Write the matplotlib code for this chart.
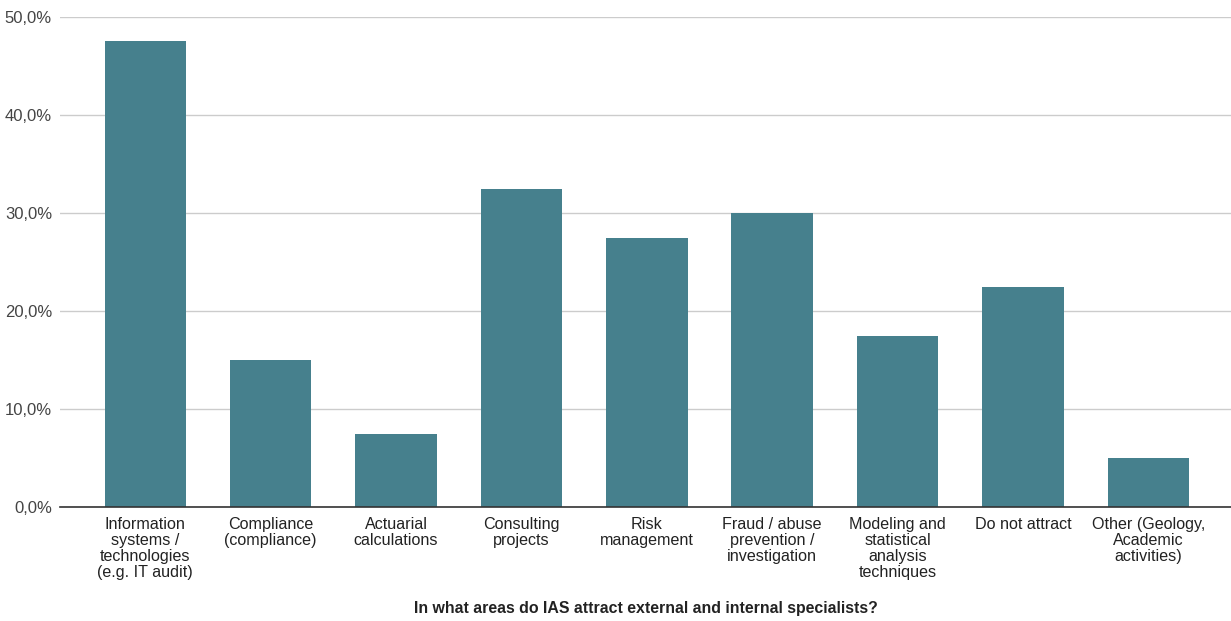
import matplotlib
matplotlib.use("Agg")
import matplotlib.pyplot as plt
from matplotlib.ticker import FuncFormatter

plt.rcParams['font.family'] = ['Liberation Sans', 'DejaVu Sans']

categories = [
    "Information\nsystems /\ntechnologies\n(e.g. IT audit)",
    "Compliance\n(compliance)",
    "Actuarial\ncalculations",
    "Consulting\nprojects",
    "Risk\nmanagement",
    "Fraud / abuse\nprevention /\ninvestigation",
    "Modeling and\nstatistical\nanalysis\ntechniques",
    "Do not attract",
    "Other (Geology,\nAcademic\nactivities)",
]
shares = [47.5, 15.0, 7.5, 32.5, 27.5, 30.0, 17.5, 22.5, 5.0]
y_ticks = [0, 10, 20, 30, 40, 50]
x_title = "In what areas do IAS attract external and internal specialists?"

fig = plt.figure(figsize=(12.31, 6.21), dpi=100)
ax = fig.add_axes([60 / 1231, 1 - 507 / 621, 1 - 60 / 1231, (507 - 17) / 621])

x = list(range(len(categories)))
ax.bar(x, shares, width=0.65, color="#46808d", zorder=3)

ax.set_xlim(-0.68, 8.66)
ax.set_ylim(0, 50)
ax.set_yticks(y_ticks)
ax.yaxis.set_major_formatter(FuncFormatter(lambda v, p: f"{v:.1f}%".replace(".", ",")))
ax.grid(axis="y", color="#cccccc", linewidth=1, zorder=0)
ax.set_axisbelow(True)

for s in ["top", "right", "left"]:
    ax.spines[s].set_visible(False)
ax.spines["bottom"].set_color("#333333")
ax.spines["bottom"].set_linewidth(1.2)
ax.spines["bottom"].set_zorder(4)

ax.set_xticks(x)
ax.set_xticklabels(categories, fontsize=11.6, color="#222222", linespacing=1.08)
ax.tick_params(axis="x", length=0, pad=7)
ax.tick_params(axis="y", length=0, pad=5.8, labelsize=12, labelcolor="#444444")

fig.text(645.5 / 1231, 1 - 608 / 621, x_title, ha="center", va="center",
         fontsize=11.4, fontweight="bold", color="#222222")

fig.savefig("out.png", dpi=100)
